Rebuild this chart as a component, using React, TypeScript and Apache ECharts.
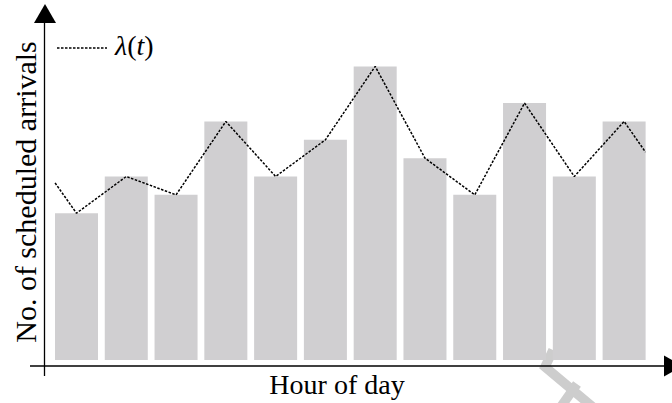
import React, { useEffect, useRef } from "react";
import * as echarts from "echarts";

const hours = ["0", "1", "2", "3", "4", "5", "6", "7", "8", "9", "10", "11"];
const arrivals = [8, 10, 9, 13, 10, 12, 16, 11, 9, 14, 10, 13];
const lambdaX = [0.07, 0.5, 1.5, 2.5, 3.5, 4.5, 5.5, 6.5, 7.5, 8.5, 9.5, 10.5, 11.5, 11.93];
const lambdaY = [9.65, 8, 10, 9, 13, 10, 12, 16, 11, 9, 14, 10, 13, 11.33];

const SERIF = "'Liberation Serif', 'DejaVu Serif', serif";

export default function App() {
  const ref = useRef<HTMLDivElement>(null);
  useEffect(() => {
    const chart = echarts.init(ref.current!, null, { renderer: "svg" });
    chart.setOption({
      animation: false,
      backgroundColor: "#ffffff",
      grid: { left: 51.6, width: 597.4, top: 29.7, height: 330.3 },
      xAxis: [
        { type: "category", data: hours, show: false },
        { type: "value", min: 0, max: 12, show: false },
      ],
      yAxis: { type: "value", min: 0, max: 18, show: false },
      series: [
        {
          type: "bar",
          data: arrivals,
          barCategoryGap: "13.6%",
          itemStyle: { color: "#d0cfd1" },
          xAxisIndex: 0,
        },
        {
          name: "λ(t)",
          type: "line",
          xAxisIndex: 1,
          data: lambdaX.map((x, i) => [x, lambdaY[i]]),
          symbol: "none",
          lineStyle: { color: "#000", width: 1.5, type: [2.5, 1.5] },
        },
      ],
      graphic: [
        {
          type: "polyline",
          shape: { points: [[553, 350], [545, 367], [594, 408]] },
          style: { stroke: "#cdcdcd", lineWidth: 9.5, fill: "none" },
        },
        {
          type: "line",
          shape: { x1: 560, y1: 408, x2: 577, y2: 384 },
          style: { stroke: "#cdcdcd", lineWidth: 9.5 },
        },
        { type: "line", shape: { x1: 44.5, y1: 376, x2: 44.5, y2: 22 }, style: { stroke: "#000", lineWidth: 1.3 } },
        { type: "polygon", shape: { points: [[34, 23], [56, 23], [45, 4]] }, style: { fill: "#000" } },
        { type: "line", shape: { x1: 30, y1: 366, x2: 665, y2: 366 }, style: { stroke: "#000", lineWidth: 1.3 } },
        { type: "polygon", shape: { points: [[664, 355.5], [664, 376.5], [683, 366]] }, style: { fill: "#000" } },
        {
          type: "line",
          shape: { x1: 57, y1: 48, x2: 107, y2: 48 },
          style: { stroke: "#000", lineWidth: 1.5, lineDash: [2.5, 1.5] },
        },
        {
          type: "text",
          x: 115,
          y: 45,
          style: {
            text: "{i|λ}({i|t})",
            font: `28px ${SERIF}`,
            fill: "#000",
            align: "left",
            verticalAlign: "middle",
            rich: { i: { fontFamily: SERIF, fontStyle: "italic", fontSize: 28, fill: "#000" } },
          },
        },
        {
          type: "text",
          x: 337,
          y: 384,
          style: { text: "Hour of day", font: `28px ${SERIF}`, fill: "#000", align: "center", verticalAlign: "middle" },
        },
        {
          type: "text",
          x: 25,
          y: 192,
          rotation: Math.PI / 2,
          style: { text: "No. of scheduled arrivals", font: `30px ${SERIF}`, fill: "#000", align: "center", verticalAlign: "middle" },
        },
      ],
    });
    return () => chart.dispose();
  }, []);
  return <div ref={ref} style={{ width: 672, height: 403, position: "absolute", left: 0, top: 0 }} />;
}
